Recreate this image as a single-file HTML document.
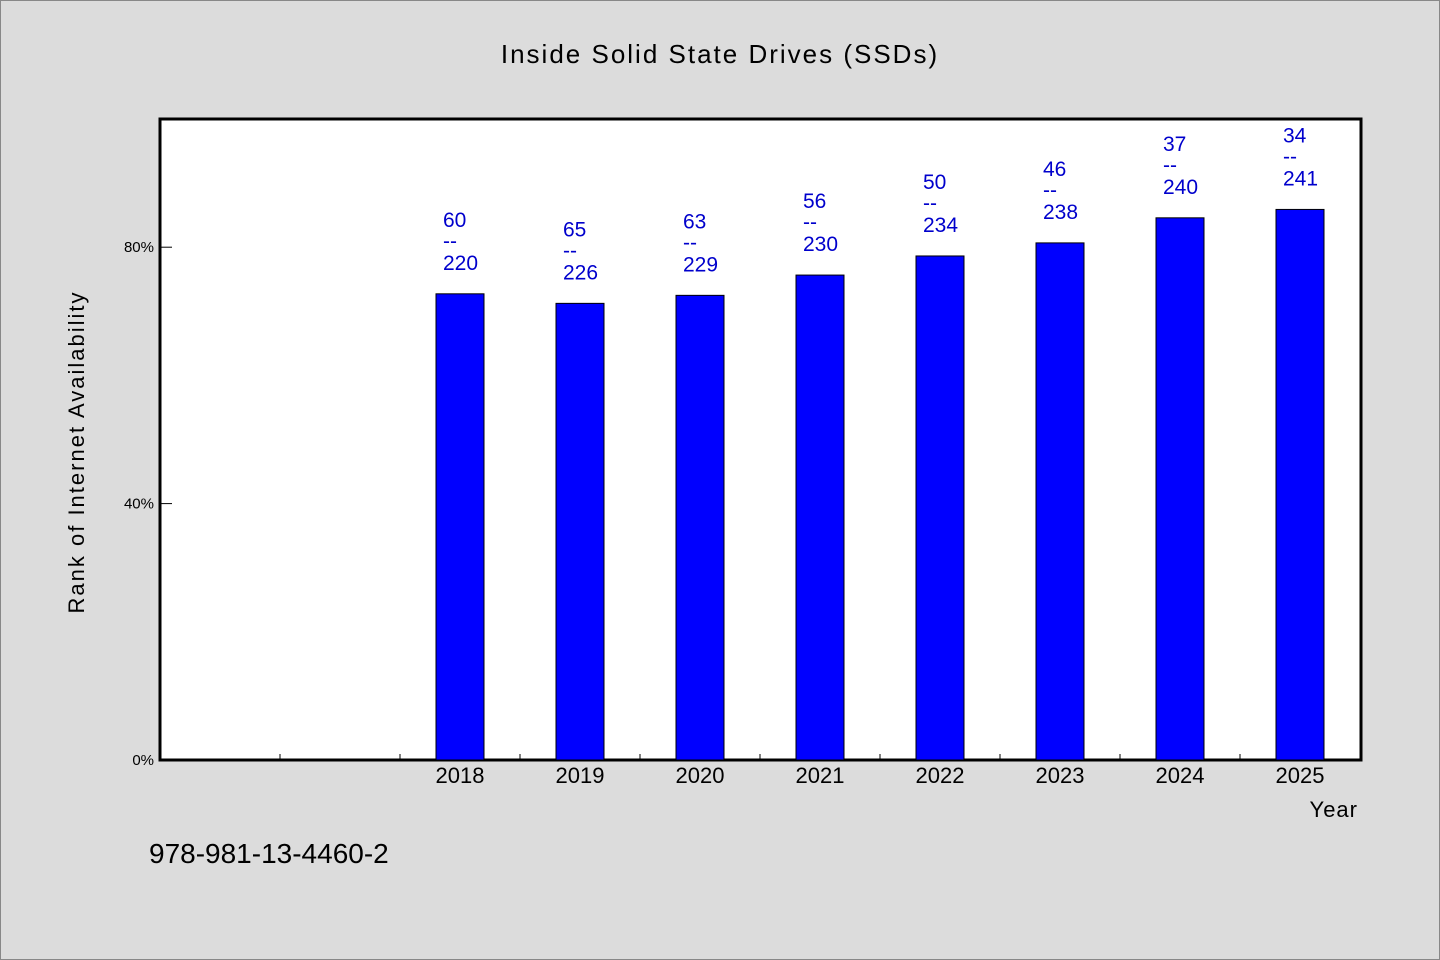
<!DOCTYPE html>
<html><head><meta charset="utf-8"><style>
html,body{margin:0;padding:0;background:#dcdcdc;}
svg{display:block;font-family:"WenQuanYi Zen Hei","Liberation Sans",sans-serif;}
</style></head><body>
<svg id="chart" width="1440" height="960" viewBox="0 0 1440 960">
<rect x="0.5" y="0.5" width="1439" height="959" fill="#dcdcdc" stroke="#888"/>
<text x="720" y="63" text-anchor="middle" font-size="26" letter-spacing="2">Inside Solid State Drives (SSDs)</text>
<rect x="160" y="119" width="1201" height="641" fill="#fff" stroke="#000" stroke-width="3"/>
<g id="ticks"></g>
<g id="bars"></g>
<text transform="translate(84,452) rotate(-90)" text-anchor="middle" font-size="22" letter-spacing="2">Rank of Internet Availability</text>
<text x="1358" y="817" text-anchor="end" font-size="22" letter-spacing="1">Year</text>
<text x="149" y="863" font-size="28">978-981-13-4460-2</text>
</svg>
<script>
const categories = ["", "", "2018","2019","2020","2021","2022","2023","2024","2025"];
const ranks = [null, null, 60, 65, 63, 56, 50, 46, 37, 34];
const totals = [null, null, 220, 226, 229, 230, 234, 238, 240, 241];
const yTicks = [0, 40, 80];
const yTickLabels = ["0%", "40%", "80%"];

const NS = "http://www.w3.org/2000/svg";
const x0 = 160, x1 = 1360, yB = 760, yT = 119;
const slot = (x1 - x0) / categories.length;
const xC = i => x0 + slot * (i + 0.5);
const yS = v => yB - (v / 100) * (yB - yT);
function mk(tag, attrs, parent) {
  const e = document.createElementNS(NS, tag);
  for (const k in attrs) e.setAttribute(k, attrs[k]);
  parent.appendChild(e);
  return e;
}
const tg = document.getElementById("ticks");
yTicks.forEach((v, i) => {
  const y = yS(v);
  if (v > 0) {
    const l = mk("line", {x1: x0, x2: x0 + 12, y1: y, y2: y, stroke: "#000"}, tg);
    
    
  }
  const t = mk("text", {x: x0 - 6, y: y + 5, "text-anchor": "end", "font-size": "15"}, tg);
  t.textContent = yTickLabels[i];
  
  
});
for (let i = 1; i < categories.length; i++) {
  const x = x0 + slot * i;
  const l = mk("line", {x1: x, x2: x, y1: yB, y2: yB - 6, stroke: "#000"}, tg);
  
  
}
const bg = document.getElementById("bars");
categories.forEach((c, i) => {
  if (!c) return;
  const v = (1 - ranks[i] / totals[i]) * 100;
  const yt = yS(v);
  const r = mk("rect", {x: xC(i) - 24, y: yt, width: 48, height: yB - yt, fill: "#0000ff", stroke: "#000", "stroke-width": 1}, bg);
  
  
  const xl = mk("text", {x: xC(i), y: yB + 23, "text-anchor": "middle", "font-size": "22"}, bg);
  xl.textContent = c;
  
  
  const lx = xC(i) - 17;
  const lines = [String(ranks[i]), "--", String(totals[i])];
  const ys = [yt - 67, yt - 46, yt - 24];
  lines.forEach((s, k) => {
    const t = mk("text", {x: lx, y: ys[k], "font-size": "21", fill: "#0000cc"}, bg);
    t.textContent = s;
    
    
  });
});
</script>
</body></html>
